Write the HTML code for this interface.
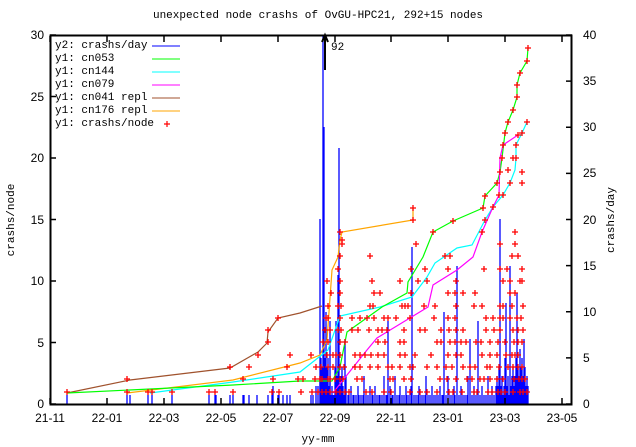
<!DOCTYPE html>
<html><head><meta charset="utf-8"><style>
html,body{margin:0;padding:0;background:#fff;}
svg{display:block;font-family:"Liberation Mono","DejaVu Sans Mono",monospace;font-size:11px;}
</style></head><body>
<svg width="636" height="447" viewBox="0 0 636 447" xmlns="http://www.w3.org/2000/svg">
<rect width="636" height="447" fill="#fff"/>
<g stroke="#00f" stroke-width="1.3" fill="none">
<path d="M67,404V395M127,404V395M130,404V395M148,404V395M152,404V395M172,404V395M209,404V395M215,404V395M216,404V395M230,404V395M233,404V395M243,404V395M244,404V395M249,404V395M257,404V395M268,404V395M272,404V395M273,404V386M278,404V395M279,404V395M283,404V395M287,404V395M290,404V395M311,404V395M313,404V395M316,404V386M318,404V386"/>
<path d="M320,404V376M321,404V358M322,404V367M325,404V358M326,404V376M327,404V367M328,404V358M329,404V386M330,404V376M331,404V395M332,404V386M333,404V395M334,404V395M335,404V367M337,404V376M340,404V386M341,404V376M342,404V367M343,404V386M344,404V395M346,404V376"/>
<path d="M348,404V395M349,404V395M351,404V386M353,404V395M354,404V395M356,404V395M358,404V386M359,404V395M361,404V395M363,404V395M364,404V376M366,404V395M368,404V395M370,404V386M372,404V395M373,404V395M375,404V386M377,404V395M379,404V395M380,404V395M382,404V395M384,404V376M386,404V395M387,404V395M390,404V386M392,404V395M393,404V395M395,404V376M397,404V395M399,404V395M400,404V386M402,404V395M404,404V395M406,404V386M407,404V395M409,404V395M411,404V386M414,404V395M416,404V395M418,404V395M419,404V386M421,404V395M423,404V395M425,404V395M426,404V376M428,404V395M430,404V395M432,404V386M434,404V395M436,404V395M438,404V395M440,404V386M442,404V395M443,404V395M446,404V395M448,404V376M450,404V395M452,404V395M454,404V386M455,404V395M459,404V395M461,404V386M463,404V395M465,404V395M467,404V395M468,404V376M472,404V395M474,404V386M476,404V395M480,404V395M482,404V386M484,404V395M486,404V395M488,404V376M490,404V395M492,404V386M494,404V395"/>
<path d="M496,404V386M497,404V376M498,404V386M499,404V367M501,404V386M502,404V376M503,404V395M504,404V386M505,404V358M507,404V386M508,404V376M509,404V395M511,404V386M512,404V376M513,404V367M514,404V386M515,404V376M516,404V358M518,404V367M519,404V376M520,404V349M521,404V367M522,404V358M523,404V376M525,404V367M526,404V386M527,404V376M528,404V386"/>
<path d="M320,404V219M323,404V35M324,404V127M339,404V148M336,404V321M338,404V275M412,404V247M457,404V266M500,404V219M510,404V266M517,404V293M506,404V303M444,404V312M388,404V321M478,404V321M345,404V339M470,404V339M524,404V339M326,404V312M330,404V321"/>
</g>
<g fill="none" stroke-width="1.2">
<polyline stroke="#a0522d" points="67,393 130,380 230,368 258,352 267,343 268,332 278,318 300,313 322,306"/>
<polyline stroke="#ffa500" points="127,393 233,380 300,363 320,355 327,340 332,270 338,257 340,240 342,232 413,220 413,208"/>
<polyline stroke="#00ffff" points="150,393 233,382 300,372 328,350 340,316 380,307 412,297 427,277 435,263 457,248 472,245 485,220 493,207 503,195 510,183 515,170 516,158 516,145 522,133 527,122"/>
<polyline stroke="#00ff00" points="67,393 233,385 300,381 332,381 340,367 347,332 382,307 407,293 408,282 423,257 433,232 453,221 483,208 485,196 497,183 500,172 502,158 505,133 508,122 513,110 517,97 517,85 520,73 527,61 528,48"/>
<polyline stroke="#ff00ff" points="333,393 343,380 367,350 377,338 428,307 433,285 457,270 473,257 482,232 493,207 499,195 500,158 503,145 518,135"/>
</g>
<g stroke="#f00" stroke-width="1.3" fill="none">
<path d="M64,392h6M67,389v6M124,392h6M127,389v6M145,392h6M148,389v6M149,392h6M152,389v6M169,392h6M172,389v6M206,392h6M209,389v6M212,392h6M215,389v6M230,392h6M233,389v6M269,392h6M272,389v6M276,392h6M279,389v6M298,392h6M301,389v6M309,392h6M312,389v6M315,392h6M318,389v6M319,392h6M322,389v6M323,392h6M326,389v6M327,392h6M330,389v6M333,392h6M336,389v6M337,392h6M340,389v6M342,392h6M345,389v6M346,392h6M349,389v6M363,392h6M366,389v6M369,392h6M372,389v6M381,392h6M384,389v6M388,392h6M391,389v6M407,392h6M410,389v6M417,392h6M420,389v6M424,392h6M427,389v6M434,392h6M437,389v6M446,392h6M449,389v6M450,392h6M453,389v6M459,392h6M462,389v6M471,392h6M474,389v6M474,392h6M477,389v6M485,392h6M488,389v6M489,392h6M492,389v6M495,392h6M498,389v6M498,392h6M501,389v6M502,392h6M505,389v6M510,392h6M513,389v6M517,392h6M520,389v6M520,392h6M523,389v6M524,392h6M527,389v6"/>
<path d="M124,379h6M127,376v6M240,379h6M243,376v6M270,379h6M273,376v6M295,379h6M298,376v6M300,379h6M303,376v6M312,379h6M315,376v6M317,379h6M320,376v6M319,379h6M322,376v6M325,379h6M328,376v6M327,379h6M330,376v6M332,379h6M335,376v6M337,379h6M340,376v6M340,379h6M343,376v6M354,379h6M357,376v6M359,379h6M362,376v6M387,379h6M390,376v6M390,379h6M393,376v6M401,379h6M404,376v6M408,379h6M411,376v6M437,379h6M440,376v6M444,379h6M447,376v6M453,379h6M456,376v6M464,379h6M467,376v6M469,379h6M472,376v6M477,379h6M480,376v6M481,379h6M484,376v6M487,379h6M490,376v6M494,379h6M497,376v6M500,379h6M503,376v6M511,379h6M514,376v6M516,379h6M519,376v6M519,379h6M522,376v6M522,379h6M525,376v6"/>
<path d="M227,367h6M230,364v6M246,367h6M249,364v6M284,367h6M287,364v6M313,367h6M316,364v6M318,367h6M321,364v6M325,367h6M328,364v6M330,367h6M333,364v6M337,367h6M340,364v6M341,367h6M344,364v6M352,367h6M355,364v6M357,367h6M360,364v6M367,367h6M370,364v6M375,367h6M378,364v6M385,367h6M388,364v6M389,367h6M392,364v6M397,367h6M400,364v6M407,367h6M410,364v6M410,367h6M413,364v6M424,367h6M427,364v6M434,367h6M437,364v6M443,367h6M446,364v6M449,367h6M452,364v6M460,367h6M463,364v6M467,367h6M470,364v6M472,367h6M475,364v6M484,367h6M487,364v6M487,367h6M490,364v6M496,367h6M499,364v6M505,367h6M508,364v6M510,367h6M513,364v6M515,367h6M518,364v6M519,367h6M522,364v6"/>
<path d="M255,355h6M258,352v6M287,355h6M290,352v6M308,355h6M311,352v6M324,355h6M327,352v6M330,355h6M333,352v6M333,355h6M336,352v6M337,355h6M340,352v6M352,355h6M355,352v6M357,355h6M360,352v6M362,355h6M365,352v6M368,355h6M371,352v6M375,355h6M378,352v6M381,355h6M384,352v6M397,355h6M400,352v6M402,355h6M405,352v6M412,355h6M415,352v6M428,355h6M431,352v6M445,355h6M448,352v6M453,355h6M456,352v6M458,355h6M461,352v6M479,355h6M482,352v6M487,355h6M490,352v6M494,355h6M497,352v6M503,355h6M506,352v6M509,355h6M512,352v6M512,355h6M515,352v6M515,355h6M518,352v6"/>
<path d="M265,342h6M268,339v6M320,342h6M323,339v6M325,342h6M328,339v6M337,342h6M340,339v6M342,342h6M345,339v6M375,342h6M378,339v6M382,342h6M385,339v6M397,342h6M400,339v6M401,342h6M404,339v6M434,342h6M437,339v6M438,342h6M441,339v6M447,342h6M450,339v6M452,342h6M455,339v6M458,342h6M461,339v6M463,342h6M466,339v6M473,342h6M476,339v6M478,342h6M481,339v6M487,342h6M490,339v6M495,342h6M498,339v6M502,342h6M505,339v6M511,342h6M514,339v6M515,342h6M518,339v6M519,342h6M522,339v6"/>
<path d="M265,330h6M268,327v6M322,330h6M325,327v6M327,330h6M330,327v6M335,330h6M338,327v6M338,330h6M341,327v6M349,330h6M352,327v6M355,330h6M358,327v6M366,330h6M369,327v6M375,330h6M378,327v6M379,330h6M382,327v6M384,330h6M387,327v6M401,330h6M404,327v6M417,330h6M420,327v6M422,330h6M425,327v6M438,330h6M441,327v6M446,330h6M449,327v6M453,330h6M456,327v6M460,330h6M463,327v6M483,330h6M486,327v6M491,330h6M494,327v6M497,330h6M500,327v6M510,330h6M513,327v6M515,330h6M518,327v6M520,330h6M523,327v6"/>
<path d="M275,318h6M278,315v6M323,318h6M326,315v6M325,318h6M328,315v6M337,318h6M340,315v6M349,318h6M352,315v6M357,318h6M360,315v6M364,318h6M367,315v6M371,318h6M374,315v6M381,318h6M384,315v6M385,318h6M388,315v6M393,318h6M396,315v6M407,318h6M410,315v6M431,318h6M434,315v6M445,318h6M448,315v6M452,318h6M455,315v6M483,318h6M486,315v6M490,318h6M493,315v6M497,318h6M500,315v6M500,318h6M503,315v6M507,318h6M510,315v6M514,318h6M517,315v6M518,318h6M521,315v6"/>
<path d="M325,306h6M328,303v6M335,306h6M338,303v6M338,306h6M341,303v6M367,306h6M370,303v6M370,306h6M373,303v6M399,306h6M402,303v6M402,306h6M405,303v6M405,306h6M408,303v6M421,306h6M424,303v6M432,306h6M435,303v6M453,306h6M456,303v6M471,306h6M474,303v6M479,306h6M482,303v6M497,306h6M500,303v6M500,306h6M503,303v6M509,306h6M512,303v6M520,306h6M523,303v6"/>
<path d="M328,293h6M331,290v6M337,293h6M340,290v6M371,293h6M374,290v6M377,293h6M380,290v6M408,293h6M411,290v6M445,293h6M448,290v6M452,293h6M455,290v6M460,293h6M463,290v6M472,293h6M475,290v6M507,293h6M510,290v6M512,293h6M515,290v6"/>
<path d="M324,281h6M327,278v6M337,281h6M340,278v6M369,281h6M372,278v6M397,281h6M400,278v6M415,281h6M418,278v6M424,281h6M427,278v6M453,281h6M456,278v6M500,281h6M503,278v6M507,281h6M510,278v6M517,281h6M520,278v6M519,281h6M522,278v6"/>
<path d="M335,269h6M338,266v6M408,269h6M411,266v6M422,269h6M425,266v6M445,269h6M448,266v6M481,269h6M484,266v6M497,269h6M500,266v6M504,269h6M507,266v6M519,269h6M522,266v6"/>
<path d="M337,256h6M340,253v6M367,256h6M370,253v6M442,256h6M445,253v6M447,256h6M450,253v6M509,256h6M512,253v6M515,256h6M518,253v6M339,244h6M342,241v6M413,244h6M416,241v6M497,244h6M500,241v6M512,244h6M515,241v6M337,232h6M340,229v6M512,232h6M515,229v6"/>
<path d="M430,232h6M433,229v6M450,221h6M453,218v6M480,208h6M483,205v6M482,196h6M485,193v6M494,183h6M497,180v6M497,172h6M500,169v6M499,158h6M502,155v6M502,133h6M505,130v6M505,122h6M508,119v6M510,110h6M513,107v6M514,97h6M517,94v6M514,85h6M517,82v6M517,73h6M520,70v6M524,61h6M527,58v6M525,48h6M528,45v6M482,220h6M485,217v6M490,207h6M493,204v6M500,195h6M503,192v6M507,183h6M510,180v6M513,158h6M516,155v6M513,145h6M516,142v6M519,133h6M522,130v6M524,122h6M527,119v6M479,232h6M482,229v6M496,195h6M499,192v6M500,145h6M503,142v6M515,135h6M518,132v6M410,220h6M413,217v6M410,208h6M413,205v6M339,240h6M342,237v6M519,183h6M522,180v6M519,172h6M522,169v6M505,170h6M508,167v6M510,158h6M513,155v6"/>
</g>
<rect x="50.5" y="35.5" width="521" height="369" fill="none" stroke="#000" stroke-width="2"/>
<g stroke="#000" stroke-width="1.5">
<path d="M50,404h6M50,342.5h6M50,281h6M50,219.5h6M50,158h6M50,96.5h6M50,35h6"/>
<path d="M566,404h6M566,357.9h6M566,311.8h6M566,265.6h6M566,219.5h6M566,173.4h6M566,127.2h6M566,81.1h6M566,35h6"/>
<path d="M50,404v-6M107,404v-6M164,404v-6M221,404v-6M278,404v-6M335,404v-6M391,404v-6M448,404v-6M505,404v-6M562,404v-6M50,36v6M107,36v6M164,36v6M221,36v6M278,36v6M335,36v6M391,36v6M448,36v6M505,36v6M562,36v6"/>
</g>
<g fill="#000" text-anchor="end" font-family="Liberation Sans, sans-serif" font-size="12">
<text x="44" y="408">0</text><text x="44" y="347">5</text><text x="44" y="285">10</text><text x="44" y="224">15</text><text x="44" y="162">20</text><text x="44" y="101">25</text><text x="44" y="39">30</text>
</g>
<g fill="#000" font-family="Liberation Sans, sans-serif" font-size="12">
<text x="583" y="408">0</text><text x="583" y="362">5</text><text x="583" y="316">10</text><text x="583" y="270">15</text><text x="583" y="224">20</text><text x="583" y="177">25</text><text x="583" y="131">30</text><text x="583" y="85">35</text><text x="583" y="39">40</text>
</g>
<g fill="#000" text-anchor="middle" font-family="Liberation Sans, sans-serif" font-size="12">
<text x="50" y="422">21-11</text><text x="107" y="422">22-01</text><text x="164" y="422">22-03</text><text x="221" y="422">22-05</text><text x="278" y="422">22-07</text><text x="335" y="422">22-09</text><text x="391" y="422">22-11</text><text x="448" y="422">23-01</text><text x="505" y="422">23-03</text><text x="562" y="422">23-05</text>
</g>
<text x="318" y="18" text-anchor="middle">unexpected node crashs of OvGU-HPC21, 292+15 nodes</text>
<text x="318" y="442" text-anchor="middle">yy-mm</text>
<text transform="translate(14,220) rotate(-90)" text-anchor="middle">crashs/node</text>
<text transform="translate(614,220) rotate(-90)" text-anchor="middle">crashs/day</text>
<g>
<text x="55" y="48">y2: crashs/day</text><line x1="152" y1="46" x2="180" y2="46" stroke="#00f"/>
<text x="55" y="61">y1: cn053</text><line x1="152" y1="59" x2="180" y2="59" stroke="#0f0"/>
<text x="55" y="74">y1: cn144</text><line x1="152" y1="72" x2="180" y2="72" stroke="#0ff"/>
<text x="55" y="87">y1: cn079</text><line x1="152" y1="85" x2="180" y2="85" stroke="#f0f"/>
<text x="55" y="100">y1: cn041 repl</text><line x1="152" y1="98" x2="180" y2="98" stroke="#a0522d"/>
<text x="55" y="113">y1: cn176 repl</text><line x1="152" y1="111" x2="180" y2="111" stroke="#ffa500"/>
<text x="55" y="126">y1: crashs/node</text>
<path d="M164,124h6M167,121v6" stroke="#f00" stroke-width="1.2"/>
</g>
<text x="331" y="50">92</text>
<path d="M325,70V36M322,42l3,-7l3,7" stroke="#000" stroke-width="2" fill="none"/>
</svg>
</body></html>
